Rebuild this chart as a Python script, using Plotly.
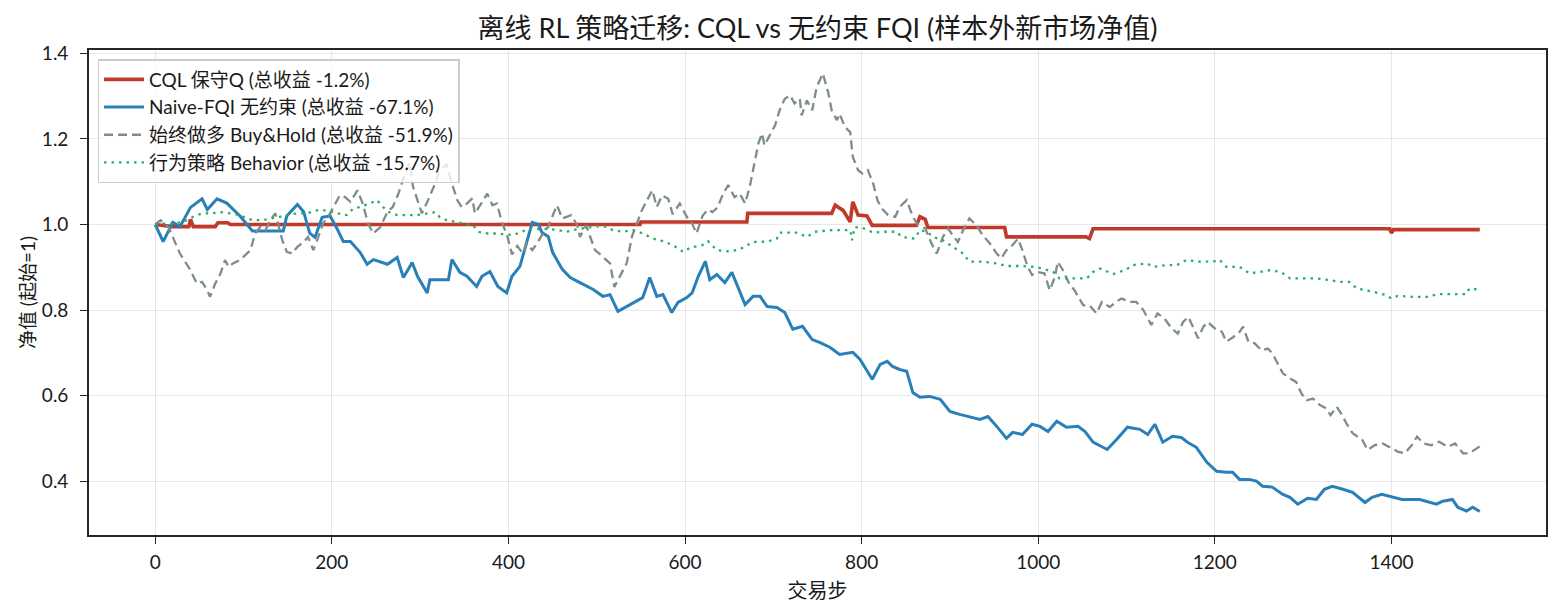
import plotly.graph_objects as go

# ---------------- data ----------------
cql_steps = [0, 10, 20, 38, 40, 43, 68, 71, 82, 85, 549, 550, 670, 671, 766, 770, 779, 787,
             790, 796, 806, 812, 862, 866, 872, 875, 962, 964, 1054, 1058, 1062, 1398, 1400,
             1402, 1500]
cql_vals = [1.0, 0.998, 0.995, 0.995, 1.012, 0.995, 0.995, 1.004, 1.004, 1.0, 1.0, 1.006,
            1.006, 1.026, 1.026, 1.045, 1.033, 1.006, 1.053, 1.022, 1.02, 0.998, 0.998, 1.018,
            1.012, 0.993, 0.993, 0.971, 0.971, 0.967, 0.99, 0.99, 0.98, 0.988, 0.988]

fqi_steps = [0, 9, 20, 28, 40, 53, 59, 70, 81, 88, 96, 110, 145, 149, 161, 168, 175, 181, 189,
             198, 206, 213, 221, 232, 240, 247, 263, 274, 281, 291, 297, 308, 311, 332, 336,
             345, 353, 364, 370, 379, 388, 398, 404, 413, 421, 427, 434, 438, 445, 450, 461,
             470, 481, 496, 507, 515, 524, 534, 552, 560, 568, 575, 585, 592, 602, 608, 615,
             623, 628, 636, 645, 653, 660, 668, 677, 685, 693, 704, 713, 722, 733, 744, 753,
             764, 775, 790, 798, 812, 821, 829, 835, 843, 851, 858, 866, 877, 889, 900, 911,
             922, 934, 943, 953, 964, 971, 982, 993, 1002, 1011, 1021, 1032, 1045, 1053, 1062,
             1078, 1089, 1101, 1115, 1124, 1132, 1141, 1152, 1162, 1169, 1179, 1191, 1202,
             1213, 1220, 1228, 1239, 1247, 1254, 1265, 1277, 1285, 1294, 1305, 1315, 1324,
             1333, 1345, 1356, 1370, 1378, 1389, 1401, 1412, 1432, 1440, 1451, 1458, 1469,
             1475, 1485, 1492, 1500]
fqi_vals = [1.0, 0.96, 1.005, 0.995, 1.04, 1.06, 1.035, 1.06, 1.05, 1.035, 1.02, 0.985, 0.985,
            1.02, 1.047, 1.03, 0.98, 0.97, 1.017, 1.02, 0.99, 0.96, 0.96, 0.935, 0.907, 0.918,
            0.907, 0.923, 0.876, 0.911, 0.879, 0.84, 0.871, 0.871, 0.918, 0.888, 0.879, 0.855,
            0.879, 0.89, 0.855, 0.84, 0.879, 0.902, 0.958, 1.005, 1.0, 0.981, 0.972, 0.935,
            0.895, 0.876, 0.864, 0.848, 0.832, 0.836, 0.797, 0.808, 0.829, 0.876, 0.832, 0.836,
            0.794, 0.818, 0.829, 0.84, 0.879, 0.914, 0.871, 0.883, 0.864, 0.888, 0.855, 0.813,
            0.832, 0.832, 0.808, 0.806, 0.794, 0.755, 0.762, 0.731, 0.724, 0.713, 0.696, 0.701,
            0.685, 0.638, 0.673, 0.68, 0.668, 0.661, 0.657, 0.607, 0.596, 0.598, 0.591, 0.563,
            0.556, 0.551, 0.544, 0.551, 0.528, 0.5, 0.514, 0.509, 0.533, 0.528, 0.516, 0.54,
            0.526, 0.528, 0.516, 0.491, 0.474, 0.498, 0.526, 0.521, 0.509, 0.533, 0.491, 0.505,
            0.502, 0.491, 0.479, 0.444, 0.423, 0.421, 0.421, 0.404, 0.404, 0.4, 0.388, 0.386,
            0.369, 0.362, 0.346, 0.36, 0.357, 0.381, 0.388, 0.381, 0.374, 0.35, 0.362, 0.369,
            0.362, 0.357, 0.357, 0.353, 0.346, 0.353, 0.357, 0.339, 0.33, 0.339, 0.329]

bh_steps = [0, 6, 15, 20, 28, 40, 47, 53, 59, 62, 68, 74, 79, 83, 88, 96, 100, 108, 113, 119,
            125, 130, 136, 139, 144, 149, 155, 161, 168, 173, 179, 184, 190, 198, 204, 209,
            215, 221, 229, 235, 241, 247, 255, 263, 269, 275, 283, 288, 292, 298, 302, 309,
            317, 322, 330, 336, 342, 347, 353, 359, 362, 368, 376, 382, 387, 393, 398, 404,
            410, 416, 421, 427, 433, 440, 445, 450, 455, 461, 466, 471, 478, 481, 488, 494,
            498, 504, 509, 515, 520, 526, 534, 540, 545, 551, 557, 563, 568, 574, 581, 586,
            594, 602, 608, 613, 620, 626, 631, 637, 643, 649, 656, 662, 668, 673, 677, 683,
            687, 690, 696, 702, 707, 713, 719, 724, 730, 732, 738, 744, 749, 756, 762, 766,
            772, 775, 781, 787, 790, 796, 801, 807, 813, 818, 823, 830, 838, 843, 851, 858,
            864, 872, 879, 885, 892, 898, 903, 909, 915, 922, 930, 937, 945, 953, 958, 964,
            971, 977, 982, 988, 993, 999, 1007, 1013, 1019, 1022, 1028, 1034, 1042, 1051,
            1058, 1066, 1072, 1081, 1088, 1094, 1104, 1111, 1119, 1128, 1135, 1143, 1151,
            1158, 1164, 1170, 1176, 1181, 1187, 1192, 1200, 1208, 1213, 1221, 1228, 1232,
            1238, 1245, 1253, 1260, 1265, 1271, 1277, 1285, 1292, 1298, 1304, 1311, 1319,
            1326, 1331, 1338, 1343, 1349, 1356, 1367, 1373, 1381, 1390, 1400, 1407, 1415,
            1423, 1429, 1436, 1445, 1454, 1464, 1472, 1481, 1488, 1494, 1500]
bh_vals = [1.0, 1.01, 0.994, 0.971, 0.932, 0.893, 0.862, 0.866, 0.846, 0.831, 0.862, 0.886,
           0.917, 0.901, 0.909, 0.917, 0.924, 0.94, 0.979, 0.994, 0.987, 1.01, 1.026, 1.002,
           0.963, 0.936, 0.932, 0.948, 0.959, 0.971, 0.94, 0.967, 1.002, 1.026, 1.049, 1.068,
           1.064, 1.053, 1.08, 1.049, 1.002, 0.979, 0.994, 1.03, 1.041, 1.07, 1.119, 1.145,
           1.088, 1.049, 1.026, 1.057, 1.096, 1.127, 1.14, 1.096, 1.057, 1.041, 1.049, 1.061,
           1.026, 1.045, 1.072, 1.045, 1.049, 1.002, 0.979, 0.93, 0.95, 0.932, 0.956, 0.94,
           0.958, 0.983, 0.994, 1.02, 1.045, 1.014, 1.018, 1.022, 0.998, 0.971, 0.998, 0.961,
           0.94, 0.93, 0.921, 0.909, 0.854, 0.878, 0.91, 0.973, 1.002, 1.033, 1.057, 1.08,
           1.041, 1.068, 1.06, 1.024, 1.049, 1.018, 1.002, 0.979, 1.021, 1.035, 1.029, 1.04,
           1.072, 1.092, 1.064, 1.072, 1.049, 1.086, 1.127, 1.189, 1.213, 1.185, 1.209, 1.232,
           1.267, 1.294, 1.302, 1.283, 1.294, 1.255, 1.29, 1.267, 1.321, 1.353, 1.31, 1.267,
           1.244, 1.259, 1.228, 1.216, 1.158, 1.127, 1.119, 1.127, 1.096, 1.056, 1.037, 1.022,
           1.018, 1.041, 1.057, 1.018, 0.998, 0.991, 0.956, 0.932, 0.971, 0.991, 0.975, 0.959,
           0.987, 1.014, 0.998, 0.975, 0.956, 0.932, 0.921, 0.94, 0.952, 0.967, 0.94, 0.901,
           0.882, 0.889, 0.886, 0.846, 0.878, 0.913, 0.893, 0.866, 0.843, 0.811, 0.811, 0.792,
           0.819, 0.807, 0.819, 0.827, 0.819, 0.819, 0.8, 0.765, 0.792, 0.78, 0.757, 0.745,
           0.772, 0.784, 0.757, 0.734, 0.761, 0.772, 0.757, 0.749, 0.726, 0.737, 0.749, 0.761,
           0.726, 0.722, 0.706, 0.71, 0.699, 0.675, 0.652, 0.64, 0.632, 0.605, 0.589, 0.593,
           0.578, 0.57, 0.554, 0.574, 0.558, 0.535, 0.512, 0.496, 0.473, 0.484, 0.488, 0.477,
           0.469, 0.465, 0.484, 0.504, 0.488, 0.484, 0.492, 0.48, 0.488, 0.465, 0.465, 0.473,
           0.481]

beh_steps = [0, 9, 20, 32, 43, 53, 64, 74, 85, 96, 104, 111, 122, 134, 141, 149, 161, 172, 183,
             195, 206, 217, 224, 232, 243, 251, 263, 274, 285, 297, 308, 317, 322, 330, 340,
             349, 360, 366, 376, 387, 398, 405, 415, 422, 432, 444, 455, 466, 478, 489, 500,
             511, 518, 530, 541, 552, 564, 575, 586, 598, 606, 620, 626, 636, 651, 662, 677,
             693, 704, 707, 726, 738, 747, 766, 787, 789, 792, 801, 813, 824, 840, 845, 860,
             866, 874, 881, 892, 903, 915, 922, 937, 953, 964, 979, 994, 1005, 1017, 1024,
             1039, 1055, 1062, 1070, 1085, 1100, 1107, 1123, 1130, 1146, 1157, 1168, 1183,
             1198, 1205, 1213, 1228, 1239, 1251, 1262, 1275, 1285, 1300, 1315, 1330, 1341,
             1352, 1361, 1379, 1394, 1400, 1407, 1424, 1443, 1451, 1485, 1488, 1500]
beh_vals = [1.0, 1.002, 1.002, 1.006, 1.018, 1.026, 1.026, 1.029, 1.026, 1.022, 1.014, 1.01,
            1.01, 1.014, 1.018, 1.022, 1.026, 1.026, 1.033, 1.033, 1.026, 1.022, 1.037, 1.041,
            1.049, 1.057, 1.03, 1.022, 1.022, 1.022, 1.026, 1.029, 1.018, 1.01, 1.006, 1.002,
            0.998, 0.983, 0.979, 0.979, 0.977, 0.975, 0.983, 0.989, 0.989, 0.99, 0.987, 0.983,
            0.989, 0.992, 0.996, 0.995, 0.987, 0.983, 0.987, 0.979, 0.967, 0.961, 0.952, 0.936,
            0.946, 0.952, 0.961, 0.94, 0.937, 0.942, 0.959, 0.96, 0.967, 0.981, 0.981, 0.971,
            0.983, 0.987, 0.987, 0.963, 0.994, 0.992, 0.981, 0.983, 0.983, 0.971, 0.967, 0.987,
            0.983, 0.971, 0.963, 0.948, 0.932, 0.913, 0.913, 0.909, 0.903, 0.903, 0.901, 0.897,
            0.889, 0.874, 0.874, 0.874, 0.889, 0.897, 0.884, 0.895, 0.905, 0.909, 0.901, 0.905,
            0.905, 0.917, 0.913, 0.913, 0.918, 0.901, 0.901, 0.886, 0.889, 0.893, 0.889, 0.874,
            0.874, 0.874, 0.87, 0.866, 0.866, 0.85, 0.843, 0.835, 0.827, 0.833, 0.831, 0.831,
            0.837, 0.837, 0.85, 0.848]

names = ["CQL 保守Q (总收益 -1.2%)", "Naive-FQI 无约束 (总收益 -67.1%)",
         "始终做多 Buy&Hold (总收益 -51.9%)", "行为策略 Behavior (总收益 -15.7%)"]

x_ticks = [0, 200, 400, 600, 800, 1000, 1200, 1400]
y_ticks = [0.4, 0.6, 0.8, 1.0, 1.2, 1.4]

FONT = "Lato, 'Noto Sans CJK SC', sans-serif"
INK = "#1a1a1a"

fig = go.Figure()
fig.add_trace(go.Scatter(x=cql_steps, y=cql_vals, mode="lines", name=names[0], legendgroup="a",
                         line=dict(color="#c0392b", width=3.6)))
fig.add_trace(go.Scatter(x=fqi_steps, y=fqi_vals, mode="lines", name=names[1], legendgroup="b",
                         line=dict(color="#2980b9", width=3)))
fig.add_trace(go.Scatter(x=bh_steps, y=bh_vals, mode="lines", name=names[2], legendgroup="c",
                         line=dict(color="#7f8c8d", width=2.3, dash="9px,5px")))
fig.add_trace(go.Scatter(x=beh_steps, y=beh_vals, mode="lines", name=names[3], legendgroup="d",
                         line=dict(color="#27ae60", width=2.3, dash="2.5px,5px")))

axis_common = dict(showline=True, linecolor="#262626", linewidth=1.6, mirror=True,
                   ticks="outside", ticklen=7, tickwidth=1.4, tickcolor="#262626",
                   showgrid=True, gridcolor="rgba(176,176,176,0.3)", gridwidth=1.3,
                   zeroline=False, tickfont=dict(family=FONT, size=19, color=INK))

fig.update_layout(
    width=1560, height=615,
    margin=dict(l=89, r=12, t=50, b=80),
    paper_bgcolor="white", plot_bgcolor="white",
    font=dict(family=FONT, color=INK),
    title=dict(text="离线 RL 策略迁移: CQL vs 无约束 FQI (样本外新市场净值)",
               x=0.5, xref="paper", xanchor="center", y=0.954, yanchor="middle",
               font=dict(family=FONT, size=27, color=INK)),
    xaxis=dict(range=[-75, 1575], tickvals=x_ticks, ticklabelstandoff=2,
               title=dict(text="交易步", font=dict(family=FONT, size=20), standoff=12),
               **axis_common),
    yaxis=dict(range=[0.274, 1.408], tickvals=y_ticks, tickformat=".1f", ticklabelstandoff=8,
               title=dict(text="净值 (起始=1)", font=dict(family=FONT, size=19), standoff=1),
               **axis_common),
    legend=dict(x=0.006, y=0.981, xanchor="left", yanchor="top",
                bgcolor="rgba(255,255,255,0.8)", bordercolor="#cccccc", borderwidth=1.3,
                font=dict(family=FONT, size=19, color=INK),
                itemwidth=40, tracegroupgap=6, traceorder="normal"),
    showlegend=True,
)

fig.write_html("out.html")
